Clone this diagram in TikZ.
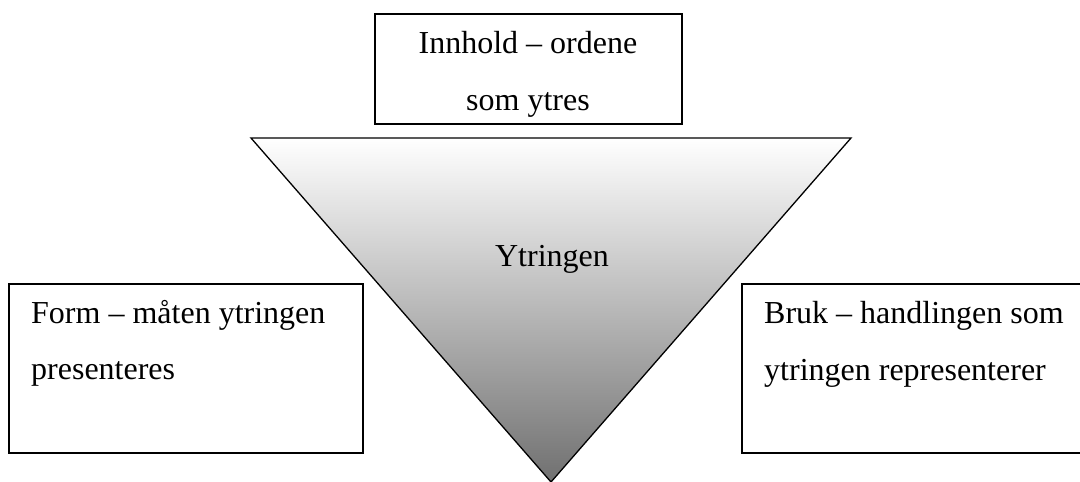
\documentclass[tikz,border=0pt]{standalone}
\usepackage{fontspec}
\setmainfont{Liberation Serif}
\begin{document}
\begin{tikzpicture}[x=1pt,y=-1pt,
  box/.style={draw=black,line width=1.3pt,fill=white},
  txt/.style={inner sep=0pt,font=\fontsize{32}{38}\selectfont}]
\useasboundingbox (0,0) rectangle (1080,482);
% triangle
\coordinate (tl) at (251,138);
\coordinate (tr) at (851,138);
\coordinate (ap) at (551,482);
\shade[top color=white,bottom color=black!56] (tl) -- (tr) -- (ap) -- cycle;
\draw[line width=1.3pt,line join=miter] (tl) -- (tr) -- (ap) -- cycle;
\node[txt,anchor=base] (ytr) at (552,266) {Ytringen};
% top box
\draw[box] (375,14) rectangle (682,124);
\node[txt,anchor=base] (inn1) at (528,53) {Innhold – ordene};
\node[txt,anchor=base] (inn2) at (528,110) {som ytres};
% left box
\draw[box] (9,284) rectangle (363,453);
\node[txt,anchor=base west] (form1) at (31,323) {Form – måten ytringen};
\node[txt,anchor=base west] (form2) at (31,379) {presenteres};
% right box
\draw[box] (742,284) rectangle (1096,453);
\node[txt,anchor=base west] (bruk1) at (764,323) {Bruk – handlingen som};
\node[txt,anchor=base west] (bruk2) at (764,380) {ytringen representerer};
\end{tikzpicture}
\end{document}
